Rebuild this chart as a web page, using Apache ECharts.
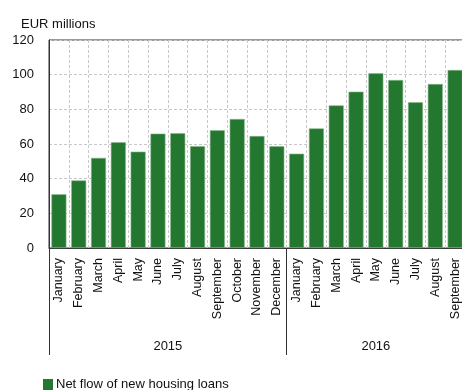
<!DOCTYPE html>
<html>
<head>
<meta charset="utf-8">
<script src="https://cdn.jsdelivr.net/npm/echarts@6/dist/echarts.min.js"></script>
<style>
  html, body { margin: 0; padding: 0; background: #fff; }
  #chartDiv { width: 462px; height: 390px; }
</style>
</head>
<body>
<div id="chartDiv"></div>
<script>
// months for each year
var months = ["January", "February", "March", "April", "May", "June", "July",
  "August", "September", "October", "November", "December",
  "January", "February", "March", "April", "May", "June", "July",
  "August", "September"];
var years = ["2015", "2016"];
var yearCounts = [12, 9];
var netFlow = [31, 39, 52, 61, 55.6, 66, 66.2, 58.8, 67.9, 74.4, 64.6, 58.7,
  54.4, 69, 82.3, 90.2, 100.8, 96.9, 84.1, 94.6, 102.7];
var yTicks = [0, 20, 40, 60, 80, 100, 120];

var FONT = "Liberation Sans, Arial, sans-serif";

// year label centres and separator indices, from the month counts
var yearCentres = {};
var yearStarts = [];
var start = 0;
for (var i = 0; i < years.length; i++) {
  yearStarts.push(start);
  yearCentres[start + yearCounts[i] / 2] = years[i];
  start += yearCounts[i];
}

var myChart = echarts.init(document.getElementById("chartDiv"));

var option = {
  animation: false,
  title: {
    text: "EUR millions",
    left: 16,
    top: 13,
    textStyle: { fontFamily: FONT, fontSize: 13, fontWeight: "normal", color: "#111" }
  },
  legend: {
    left: 43,
    top: 378,
    padding: 0,
    itemWidth: 10,
    itemHeight: 11,
    itemGap: 4,
    icon: "rect",
    itemStyle: { borderWidth: 0 },
    textStyle: { fontFamily: FONT, fontSize: 13, color: "#111", padding: [0, 0, 0, -2] },
    data: ["Net flow of new housing loans"]
  },
  grid: {
    left: 49,
    top: 40,
    width: 416,
    height: 208,
    show: true,
    borderColor: "#333",
    borderWidth: 1,
    outerBoundsMode: "none",
    containLabel: false
  },
  xAxis: [
    {
      type: "category",
      data: months,
      boundaryGap: true,
      axisLine: { show: true, lineStyle: { color: "#333", width: 1 } },
      axisTick: {
        show: true,
        length: 107,
        interval: function (index) { return yearStarts.indexOf(index) >= 0; },
        lineStyle: { color: "#333", width: 1 }
      },
      axisLabel: {
        interval: 0,
        rotate: 90,
        margin: 10,
        fontFamily: FONT,
        fontSize: 12.5,
        color: "#111"
      },
      splitLine: {
        show: true,
        interval: 0,
        lineStyle: { color: "#c8c8c8", type: [3, 2], width: 1 }
      }
    },
    {
      type: "value",
      position: "bottom",
      min: 0,
      max: months.length,
      interval: 0.5,
      axisLine: { show: false },
      axisTick: { show: false },
      splitLine: { show: false },
      axisLabel: {
        margin: 92,
        fontFamily: FONT,
        fontSize: 13,
        color: "#111",
        hideOverlap: false,
        showMinLabel: true,
        showMaxLabel: true,
        formatter: function (v) { return yearCentres[v] || ""; }
      }
    }
  ],
  yAxis: {
    type: "value",
    min: yTicks[0],
    max: yTicks[yTicks.length - 1],
    interval: 20,
    axisLine: { show: true, lineStyle: { color: "#333", width: 1 } },
    axisTick: { show: false },
    axisLabel: {
      margin: 15,
      fontFamily: FONT,
      fontSize: 13,
      color: "#111"
    },
    splitLine: {
      show: true,
      lineStyle: { color: "#c8c8c8", type: [3, 2], width: 1 }
    }
  },
  series: [
    {
      name: "Net flow of new housing loans",
      type: "bar",
      xAxisIndex: 0,
      data: netFlow,
      barWidth: 15,
      itemStyle: {
        color: "#24772f",
        borderColor: "#8cb790",
        borderWidth: 0.6
      }
    }
  ]
};

myChart.setOption(option);

window.addEventListener("resize", function () {
  myChart.resize();
});
</script>
</body>
</html>
